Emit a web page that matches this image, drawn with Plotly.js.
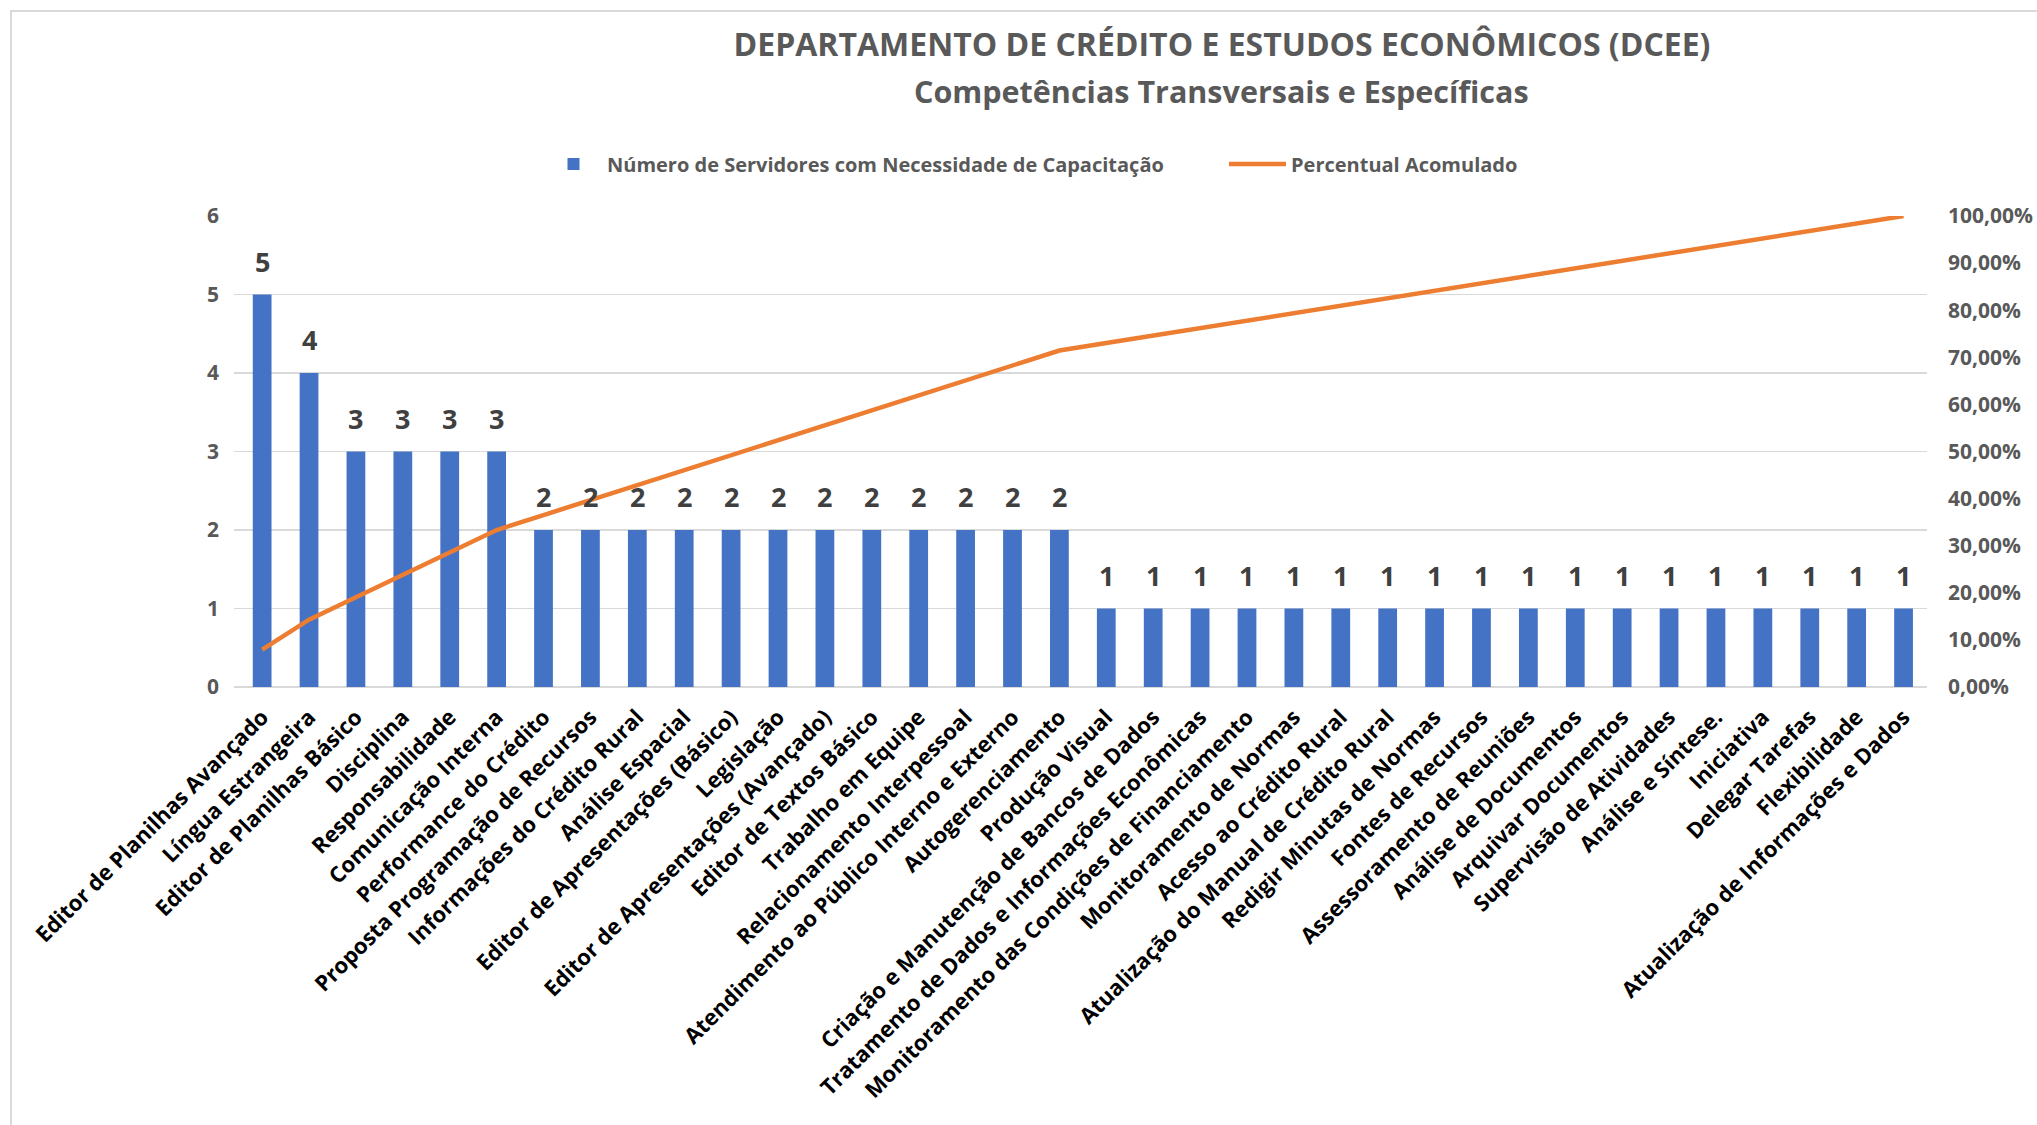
<!DOCTYPE html>
<html>
<head>
<meta charset="utf-8">
<script src="https://cdn.plot.ly/plotly-3.0.1.min.js"></script>
<style>
  html, body { margin: 0; padding: 0; background: #ffffff; }
  #chart { width: 2037px; height: 1125px; }
</style>
</head>
<body>
<div id="chart"></div>
<script>
// ---- Data ----
const categories = [
  "Editor de Planilhas Avançado",
  "Língua Estrangeira",
  "Editor de Planilhas Básico",
  "Disciplina",
  "Responsabilidade",
  "Comunicação Interna",
  "Performance do Crédito",
  "Proposta Programação de Recursos",
  "Informações do Crédito Rural",
  "Análise Espacial",
  "Editor de Apresentações (Básico)",
  "Legislação",
  "Editor de Apresentações (Avançado)",
  "Editor de Textos Básico",
  "Trabalho em Equipe",
  "Relacionamento Interpessoal",
  "Atendimento ao Público Interno e Externo",
  "Autogerenciamento",
  "Produção Visual",
  "Criação e Manutenção de Bancos de Dados",
  "Tratamento de Dados e Informações Econômicas",
  "Monitoramento das Condições de Financiamento",
  "Monitoramento de Normas",
  "Acesso ao Crédito Rural",
  "Atualização do Manual de Crédito Rural",
  "Redigir Minutas de Normas",
  "Fontes de Recursos",
  "Assessoramento de Reuniões",
  "Análise de Documentos",
  "Arquivar Documentos",
  "Supervisão de Atividades",
  "Análise e Síntese.",
  "Iniciativa",
  "Delegar Tarefas",
  "Flexibilidade",
  "Atualização de Informações e Dados"
];

const servidores = [5, 4, 3, 3, 3, 3, 2, 2, 2, 2, 2, 2, 2, 2, 2, 2, 2, 2,
                    1, 1, 1, 1, 1, 1, 1, 1, 1, 1, 1, 1, 1, 1, 1, 1, 1, 1];

const percentualAcumulado = [
  0.0794, 0.1429, 0.1905, 0.2381, 0.2857, 0.3333, 0.3651, 0.3968, 0.4286,
  0.4603, 0.4921, 0.5238, 0.5556, 0.5873, 0.6190, 0.6508, 0.6825, 0.7143,
  0.7302, 0.7460, 0.7619, 0.7778, 0.7937, 0.8095, 0.8254, 0.8413, 0.8571,
  0.8730, 0.8889, 0.9048, 0.9206, 0.9365, 0.9524, 0.9683, 0.9841, 1.0000
];

const leftTicks = [0, 1, 2, 3, 4, 5, 6];
const rightTicks = [0, 0.1, 0.2, 0.3, 0.4, 0.5, 0.6, 0.7, 0.8, 0.9, 1.0];

const titleLine1 = "DEPARTAMENTO DE CRÉDITO E ESTUDOS ECONÔMICOS (DCEE)";
const titleLine2 = "Competências Transversais e Específicas";
const seriesNames = ["Número de Servidores com Necessidade de Capacitação", "Percentual Acomulado"];

// ---- Styling ----
const FONT = "'Open Sans', 'Segoe UI', 'DejaVu Sans', sans-serif";
const GREY = "#595959";
const GRID = "#D9D9D9";

const barTrace = {
  type: "bar",
  x: categories,
  y: servidores,
  name: seriesNames[0],
  marker: { color: "#4472C4" },
  width: 0.4,
  yaxis: "y",
  hoverinfo: "x+y"
};

const lineTrace = {
  type: "scatter",
  mode: "lines",
  x: categories,
  y: percentualAcumulado,
  name: seriesNames[1],
  line: { color: "#ED7D31", width: 4.5 },
  yaxis: "y2",
  hoverinfo: "x+y"
};

const valueAnnotations = categories.map((c, i) => ({
  x: c,
  y: servidores[i],
  xref: "x",
  yref: "y",
  text: String(servidores[i]),
  showarrow: false,
  yanchor: "bottom",
  yshift: 13,
  font: { family: FONT, size: 27, color: "#404040", weight: 700 }
}));

const layout = {
  width: 2037,
  height: 1125,
  paper_bgcolor: "#ffffff",
  plot_bgcolor: "#ffffff",
  separators: ", ",
  margin: { l: 234, r: 110, t: 216, b: 438, pad: 0 },
  font: { family: FONT, color: GREY },
  title: {
    text: titleLine1,
    x: 1222 / 2037,
    xref: "container",
    xanchor: "center",
    y: 1 - 45 / 1125,
    yref: "container",
    yanchor: "middle",
    font: { family: FONT, size: 32, color: GREY, weight: 700 }
  },
  showlegend: true,
  legend: {
    orientation: "h",
    x: (540 - 234) / 1693,
    xanchor: "left",
    y: (687 - 164) / 471,
    yanchor: "middle",
    itemwidth: 57,
    entrywidth: 612,
    entrywidthmode: "pixels",
    font: { family: FONT, size: 20, color: GREY, weight: 700 },
    traceorder: "normal"
  },
  xaxis: {
    type: "category",
    range: [-0.6, categories.length - 0.5],
    tickangle: -45,
    tickfont: { family: FONT, size: 22, color: "#000000", weight: 700 },
    ticklabelstandoff: 12,
    showgrid: false,
    showline: false,
    ticks: "",
    fixedrange: true
  },
  yaxis: {
    range: [0, 6],
    tickvals: leftTicks,
    tickfont: { family: FONT, size: 21, color: GREY, weight: 700 },
    showgrid: true,
    gridcolor: GRID,
    gridwidth: 1.5,
    zeroline: true,
    zerolinecolor: GRID,
    zerolinewidth: 1.5,
    showline: false,
    ticks: "",
    ticklabelstandoff: 14,
    fixedrange: true
  },
  yaxis2: {
    range: [0, 1],
    tickvals: rightTicks,
    tickformat: ".2%",
    overlaying: "y",
    side: "right",
    tickfont: { family: FONT, size: 21, color: GREY, weight: 700 },
    showgrid: false,
    zeroline: false,
    showline: false,
    ticks: "",
    ticklabelstandoff: 20,
    fixedrange: true
  },
  annotations: valueAnnotations.concat([
    {
      text: titleLine2,
      xref: "paper",
      yref: "paper",
      x: (1221 - 234) / 1693,
      y: (687 - 91) / 471,
      xanchor: "center",
      yanchor: "middle",
      showarrow: false,
      font: { family: FONT, size: 30.5, color: GREY, weight: 700 }
    }
  ]),
  shapes: [
    {
      type: "rect",
      xref: "paper",
      yref: "paper",
      x0: (11 - 234) / 1693,
      x1: 1.2,
      y0: -1.2,
      y1: (687 - 11) / 471,
      line: { color: GRID, width: 2 },
      fillcolor: "rgba(0,0,0,0)",
      layer: "below"
    }
  ]
};

Plotly.newPlot("chart", [barTrace, lineTrace], layout, { displayModeBar: false, staticPlot: true });
</script>
</body>
</html>
